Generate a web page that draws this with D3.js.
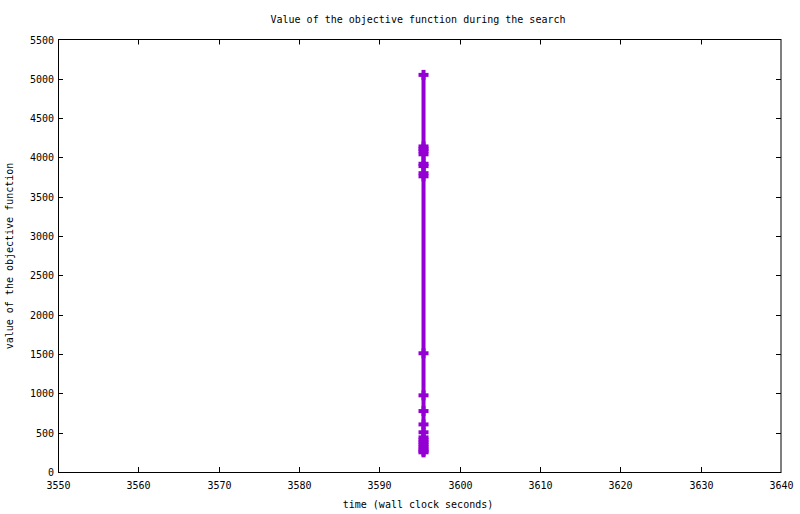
<!DOCTYPE html>
<html><head><meta charset="utf-8">
<script src="https://cdn.jsdelivr.net/npm/d3@7"></script>
<style>
body{margin:0;background:#fff;}
text{font-family:"DejaVu Sans Mono",monospace;font-size:10px;fill:#000;}
</style></head>
<body>
<script>
const titleText = "Value of the objective function during the search";
const xLabel = "time (wall clock seconds)";
const yLabel = "value of the objective function";
const xTicks = [3550,3560,3570,3580,3590,3600,3610,3620,3630,3640];
const yTicks = [0,500,1000,1500,2000,2500,3000,3500,4000,4500,5000,5500];
const times = [3595.5,3595.5,3595.5,3595.5,3595.5,3595.5,3595.5,3595.5,3595.5,3595.5,3595.5,3595.5,3595.5,3595.5,3595.5,3595.5,3595.5,3595.5,3595.5,3595.5,3595.5,3595.5];
const values = [5050,4140,4110,4080,4040,3920,3890,3800,3760,1510,975,775,605,505,440,410,380,350,320,290,265,250];

const W=800,H=514;
const L=58,R=781,T=39.5,B=472;
const svg=d3.select("body").append("svg").attr("width",W).attr("height",H);
const x=d3.scaleLinear().domain([3550,3640]).range([L,R]);
const y=d3.scaleLinear().domain([0,5500]).range([B,T]);

const g=svg.append("g");
yTicks.forEach(v=>{
  const yy=Math.round(y(v))+0.5;
  if(v>0&&v<5500){
    g.append("line").attr("x1",L).attr("x2",L+5).attr("y1",yy).attr("y2",yy).attr("stroke","#000");
    g.append("line").attr("x1",R-5).attr("x2",R).attr("y1",yy).attr("y2",yy).attr("stroke","#000");
  }
  g.append("text").attr("x",L-4).attr("y",yy).attr("dy","0.35em").attr("text-anchor","end").text(v);
});
xTicks.forEach(v=>{
  const xx=Math.round(x(v))+0.5;
  if(v>3550&&v<3640){
    g.append("line").attr("x1",xx).attr("x2",xx).attr("y1",B).attr("y2",B-5).attr("stroke","#000");
    g.append("line").attr("x1",xx).attr("x2",xx).attr("y1",T).attr("y2",T+5).attr("stroke","#000");
  }
  g.append("text").attr("x",xx).attr("y",B+17).attr("text-anchor","middle").text(v);
});
g.append("rect").attr("x",L+0.5).attr("y",T).attr("width",R-L-0.5).attr("height",B-T+0.5)
  .attr("fill","none").attr("stroke","#000").attr("stroke-width",1);

const data=times.map((t,i)=>({t,v:values[i]}));
const col="#9400d3";
svg.append("path").datum(data)
  .attr("d",d3.line().x(d=>x(d.t)).y(d=>y(d.v)))
  .attr("fill","none").attr("stroke",col).attr("stroke-width",4);
const pts=svg.append("g").attr("stroke",col).attr("stroke-width",4);
data.forEach(d=>{
  const cx=x(d.t),cy=y(d.v);
  pts.append("line").attr("x1",cx-5).attr("x2",cx+5).attr("y1",cy).attr("y2",cy);
  pts.append("line").attr("x1",cx).attr("x2",cx).attr("y1",cy-5).attr("y2",cy+5);
});

svg.append("text").attr("x",418).attr("y",23).attr("text-anchor","middle").text(titleText);
svg.append("text").attr("x",418).attr("y",508).attr("text-anchor","middle").text(xLabel);
svg.append("text").attr("transform","translate(13,256) rotate(-90)").attr("text-anchor","middle").text(yLabel);
</script>
</body></html>
